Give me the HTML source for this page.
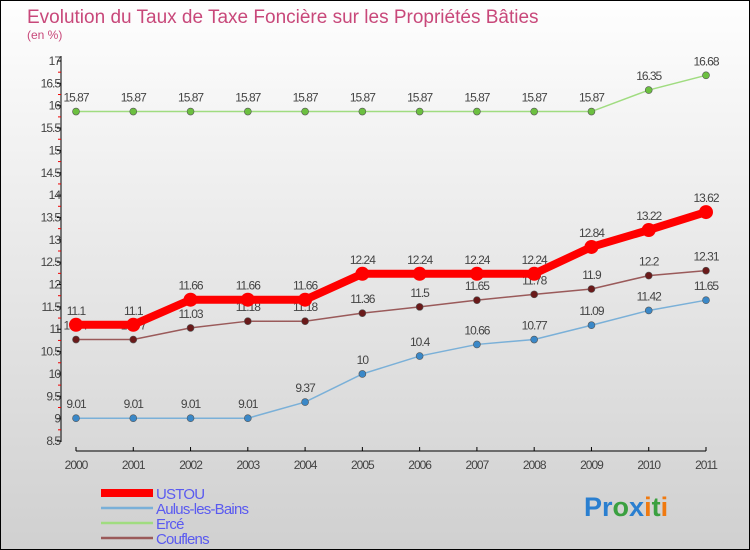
<!DOCTYPE html>
<html><head><meta charset="utf-8"><style>
body{margin:0}
#c{width:750px;height:550px;position:relative;box-sizing:border-box;border:1px solid #000;background:linear-gradient(#fefefe,#d0d0d0);font-family:"Liberation Sans",sans-serif;overflow:hidden}
svg text{font-family:"Liberation Sans",sans-serif}
</style></head><body>
<div id="c">
<svg id="s" width="750" height="550">
<text x="26" y="22" font-size="19" fill="#c8487a">Evolution du Taux de Taxe Foncière sur les Propriétés Bâties</text>
<text x="26" y="38" font-size="12" fill="#c8487a">(en %)</text>
<g id="ax"></g><g id="ser"></g><g id="leg"></g>
<text x="583" y="515" font-size="27" font-weight="bold"><tspan fill="#2a7fd0">Pr</tspan><tspan fill="#3aa040">o</tspan><tspan fill="#2a7fd0">x</tspan><tspan fill="#f07a10">i</tspan><tspan fill="#3aa040">t</tspan><tspan fill="#f07a10">i</tspan></text>
</svg></div>
<script>
const years=[2000,2001,2002,2003,2004,2005,2006,2007,2008,2009,2010,2011];
const ustou=[11.1,11.1,11.66,11.66,11.66,12.24,12.24,12.24,12.24,12.84,13.22,13.62];
const aulus=[9.01,9.01,9.01,9.01,9.37,10,10.4,10.66,10.77,11.09,11.42,11.65];
const erce=[15.87,15.87,15.87,15.87,15.87,15.87,15.87,15.87,15.87,15.87,16.35,16.68];
const couflens=[10.77,10.77,11.03,11.18,11.18,11.36,11.5,11.65,11.78,11.9,12.2,12.31];
const yTicks=[8.5,9,9.5,10,10.5,11,11.5,12,12.5,13,13.5,14,14.5,15,15.5,16,16.5,17];
const NS="http://www.w3.org/2000/svg";
const xs=i=>75+i*(630/11);
const ys=v=>60+(17-v)*(380/8.5);
function mk(t,a,p){const e=document.createElementNS(NS,t);for(const k in a)e.setAttribute(k,a[k]);p.appendChild(e);return e;}
const ax=document.getElementById('ax');
let l=mk('line',{x1:60,y1:55,x2:60,y2:441,stroke:'#000'},ax);


yTicks.forEach(v=>{
 const y=ys(v);
 mk('line',{x1:56,y1:y,x2:60,y2:y,stroke:'#000'},ax);
 if(v<17){mk('line',{x1:57,y1:ys(v+0.25),x2:60,y2:ys(v+0.25),stroke:'#e00'},ax);}
 const t=mk('text',{x:59,y:y+4,'font-size':12,fill:'#444','text-anchor':'end','letter-spacing':'-1'},ax);
 t.textContent=String(v);
 
 
});
l=mk('line',{x1:75,y1:450,x2:705,y2:450,stroke:'#000'},ax);


years.forEach((yr,i)=>{
 mk('line',{x1:xs(i),y1:446,x2:xs(i),y2:450,stroke:'#000'},ax);
 const t=mk('text',{x:xs(i),y:468,'font-size':12,fill:'#444','text-anchor':'middle','letter-spacing':'-1'},ax);
 t.textContent=String(yr);
 
 
});
const ser=document.getElementById('ser');
const series=[
 {n:'aulus',d:aulus,c:'#7ab0d8',p:'#3a88c8',w:1.5,r:3.5},
 {n:'erce',d:erce,c:'#a0dc80',p:'#6cc040',w:1.5,r:3.5},
 {n:'couflens',d:couflens,c:'#9a5a5a',p:'#6a1a1a',w:1.5,r:3.5},
 {n:'ustou',d:ustou,c:'#f00',p:'#f00',w:8,r:7}];
series.forEach(s=>{
 const g=mk('g',{},ser);
 
 
 const pl=mk('polyline',{points:s.d.map((v,i)=>xs(i)+','+ys(v)).join(' '),fill:'none',stroke:s.c,'stroke-width':s.w},g);
 
 
 s.d.forEach((v,i)=>{
  const c=mk('circle',{cx:xs(i),cy:ys(v),r:s.r,fill:s.p,stroke:'#555','stroke-width':s.w>2?0:0.6},g);
  
  
  const t=mk('text',{x:xs(i),y:ys(v)-10,'font-size':12,fill:'#444','text-anchor':'middle','letter-spacing':'-1'},g);
  t.textContent=String(v);
  
  
 });
});
const leg=document.getElementById('leg');
const le=[['USTOU','#f00',8],['Aulus-les-Bains','#7ab0d8',2.5],['Ercé','#a0dc80',2.5],['Couflens','#9a5a5a',2.5]];
le.forEach((e,i)=>{
 const y=492+i*15;
 const g=mk('g',{},leg);
 
 
 mk('line',{x1:100,y1:y,x2:152,y2:y,stroke:e[1],'stroke-width':e[2]},g);
 const t=mk('text',{x:155,y:y+6,'font-size':15,fill:'#5a5af0','letter-spacing':'-0.8'},g);
 t.textContent=e[0];
});
</script>
</body></html>
